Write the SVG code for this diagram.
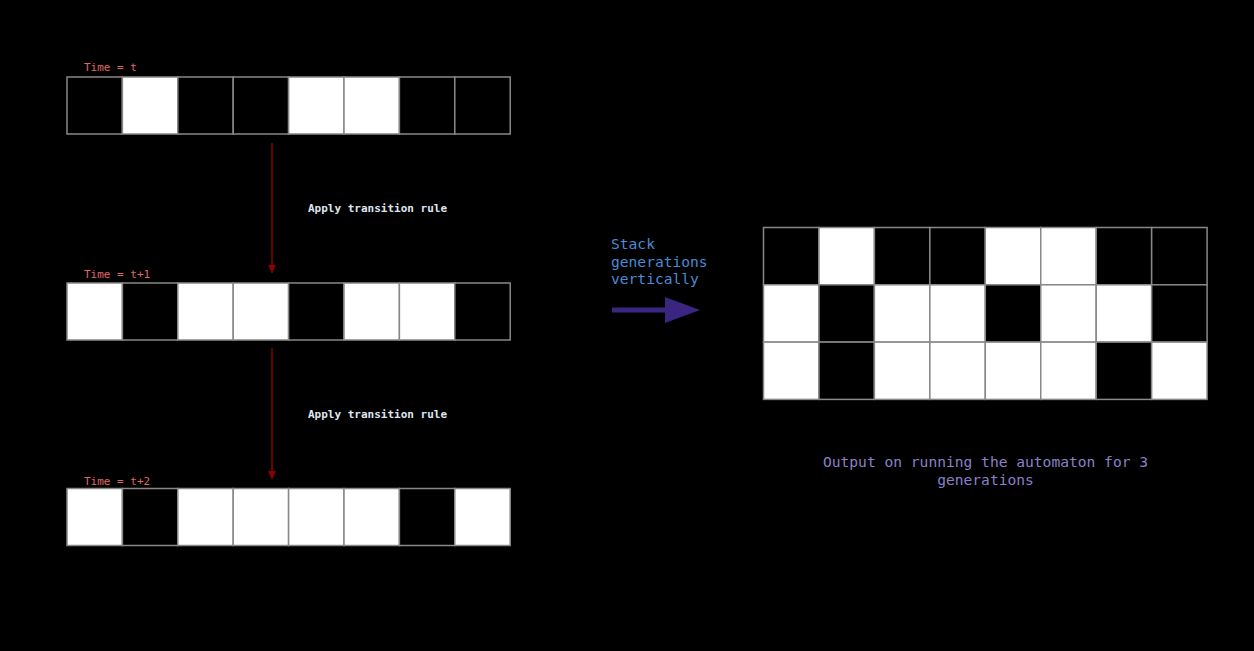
<svg xmlns="http://www.w3.org/2000/svg" width="1254" height="651" viewBox="0 0 1254 651">
<defs>
<style>
.b{fill:#000;stroke:#888;stroke-width:1.5}
.w{fill:#fff;stroke:#888;stroke-width:1.5}
.lbl{font-family:"DejaVu Sans Mono","Liberation Mono",monospace;font-size:11px;fill:#e06666}
.rule{font-family:"DejaVu Sans Mono","Liberation Mono",monospace;font-size:11px;font-weight:bold;fill:#dde6f0}
.stack{font-family:"DejaVu Sans Mono","Liberation Mono",monospace;font-size:14.6px;fill:#4a8bd6}
.out{font-family:"DejaVu Sans Mono","Liberation Mono",monospace;font-size:14.6px;fill:#8a80c8}
.conn{stroke:#8b0000;stroke-width:1.5;fill:none}
</style>
<marker id="ah" viewBox="0 0 10 10" refX="10" refY="5" markerWidth="8" markerHeight="9" markerUnits="userSpaceOnUse" orient="auto">
<path d="M0,0 L10,5 L0,10 Z" fill="#8b0000"/>
</marker>
</defs>
<rect width="1254" height="651" fill="#000"/>

<g id="gen-t">
<text class="lbl" x="84" y="71">Time = t</text>
<rect class="b" x="67" y="77" width="55.4" height="57"/>
<rect class="w" x="122.4" y="77" width="55.4" height="57"/>
<rect class="b" x="177.8" y="77" width="55.4" height="57"/>
<rect class="b" x="233.2" y="77" width="55.4" height="57"/>
<rect class="w" x="288.6" y="77" width="55.4" height="57"/>
<rect class="w" x="344" y="77" width="55.4" height="57"/>
<rect class="b" x="399.4" y="77" width="55.4" height="57"/>
<rect class="b" x="454.8" y="77" width="55.4" height="57"/>
</g>

<g id="gen-t1">
<text class="lbl" x="84" y="278">Time = t+1</text>
<rect class="w" x="67" y="283" width="55.4" height="57"/>
<rect class="b" x="122.4" y="283" width="55.4" height="57"/>
<rect class="w" x="177.8" y="283" width="55.4" height="57"/>
<rect class="w" x="233.2" y="283" width="55.4" height="57"/>
<rect class="b" x="288.6" y="283" width="55.4" height="57"/>
<rect class="w" x="344" y="283" width="55.4" height="57"/>
<rect class="w" x="399.4" y="283" width="55.4" height="57"/>
<rect class="b" x="454.8" y="283" width="55.4" height="57"/>
</g>

<g id="gen-t2">
<text class="lbl" x="84" y="485">Time = t+2</text>
<rect class="w" x="67" y="488.5" width="55.4" height="57"/>
<rect class="b" x="122.4" y="488.5" width="55.4" height="57"/>
<rect class="w" x="177.8" y="488.5" width="55.4" height="57"/>
<rect class="w" x="233.2" y="488.5" width="55.4" height="57"/>
<rect class="w" x="288.6" y="488.5" width="55.4" height="57"/>
<rect class="w" x="344" y="488.5" width="55.4" height="57"/>
<rect class="b" x="399.4" y="488.5" width="55.4" height="57"/>
<rect class="w" x="454.8" y="488.5" width="55.4" height="57"/>
</g>

<g id="connectors">
<line class="conn" x1="272" y1="143" x2="272" y2="273" marker-end="url(#ah)"/>
<text class="rule" x="308" y="212">Apply transition rule</text>
<line class="conn" x1="272" y1="348" x2="272" y2="479" marker-end="url(#ah)"/>
<text class="rule" x="308" y="418">Apply transition rule</text>
<line x1="612" y1="310" x2="668" y2="310" stroke="#3a2580" stroke-width="5"/>
<path d="M665,297 L700,310 L665,323 Z" fill="#3a2580"/>
</g>

<g id="stack-label">
<text class="stack" x="611" y="249">Stack</text>
<text class="stack" x="611" y="267">generations</text>
<text class="stack" x="611" y="284">vertically</text>
</g>

<g id="output-grid">
<rect class="b" x="763.5" y="227.5" width="55.45" height="57.3"/>
<rect class="w" x="818.95" y="227.5" width="55.45" height="57.3"/>
<rect class="b" x="874.4" y="227.5" width="55.45" height="57.3"/>
<rect class="b" x="929.85" y="227.5" width="55.45" height="57.3"/>
<rect class="w" x="985.3" y="227.5" width="55.45" height="57.3"/>
<rect class="w" x="1040.75" y="227.5" width="55.45" height="57.3"/>
<rect class="b" x="1096.2" y="227.5" width="55.45" height="57.3"/>
<rect class="b" x="1151.65" y="227.5" width="55.45" height="57.3"/>

<rect class="w" x="763.5" y="284.8" width="55.45" height="57.3"/>
<rect class="b" x="818.95" y="284.8" width="55.45" height="57.3"/>
<rect class="w" x="874.4" y="284.8" width="55.45" height="57.3"/>
<rect class="w" x="929.85" y="284.8" width="55.45" height="57.3"/>
<rect class="b" x="985.3" y="284.8" width="55.45" height="57.3"/>
<rect class="w" x="1040.75" y="284.8" width="55.45" height="57.3"/>
<rect class="w" x="1096.2" y="284.8" width="55.45" height="57.3"/>
<rect class="b" x="1151.65" y="284.8" width="55.45" height="57.3"/>

<rect class="w" x="763.5" y="342.1" width="55.45" height="57.3"/>
<rect class="b" x="818.95" y="342.1" width="55.45" height="57.3"/>
<rect class="w" x="874.4" y="342.1" width="55.45" height="57.3"/>
<rect class="w" x="929.85" y="342.1" width="55.45" height="57.3"/>
<rect class="w" x="985.3" y="342.1" width="55.45" height="57.3"/>
<rect class="w" x="1040.75" y="342.1" width="55.45" height="57.3"/>
<rect class="b" x="1096.2" y="342.1" width="55.45" height="57.3"/>
<rect class="w" x="1151.65" y="342.1" width="55.45" height="57.3"/>
</g>

<g id="output-label">
<text class="out" x="985.5" y="467" text-anchor="middle">Output on running the automaton for 3</text>
<text class="out" x="985.5" y="485" text-anchor="middle">generations</text>
</g>
</svg>
